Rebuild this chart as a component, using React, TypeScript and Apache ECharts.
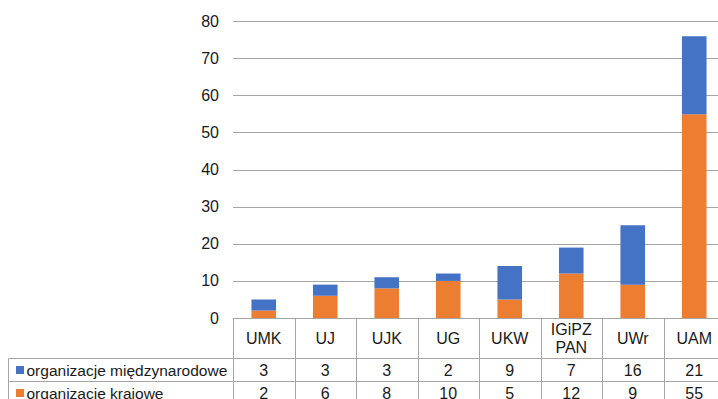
import React, { useEffect, useRef } from "react";
import * as echarts from "echarts";

const categories = ["UMK", "UJ", "UJK", "UG", "UKW", "IGiPZ\nPAN", "UWr", "UAM"];
const seriesNames = ["organizacje międzynarodowe", "organizacje krajowe"];
const international = [3, 3, 3, 2, 9, 7, 16, 21];
const domestic = [2, 6, 8, 10, 5, 12, 9, 55];
const yMin = 0;
const yMax = 80;
const yInterval = 10;

const BLUE = "#4472C4";
const ORANGE = "#ED7D31";
const GRID_GRAY = "#A6A6A6";
const TEXT = "#1a1a1a";
const FONT = "'Liberation Sans', Arial, sans-serif";

export default function App() {
  const ref = useRef<HTMLDivElement>(null);

  useEffect(() => {
    if (!ref.current) return;
    const chart = echarts.init(ref.current, null, { renderer: "svg" });

    const headerH = 40;
    const rowH = 23;
    const labelLeft = 8.5;

    const renderItem = (params: any, api: any) => {
      const idx = api.value(0);
      const pt = api.coord([idx, 0]);
      const cx = pt[0];
      const y0 = Math.round(pt[1]) + 0.5;
      const bw = api.size([1, 0])[0];
      const x0 = Math.round(cx - bw / 2) + 0.5;
      const x1 = Math.round(cx + bw / 2) + 0.5;
      const yBottom = y0 + headerH + rowH * 2;
      const line = (a: number, b: number, c: number, d: number) => ({
        type: "line",
        shape: { x1: a, y1: b, x2: c, y2: d },
        style: { stroke: GRID_GRAY, lineWidth: 1 },
      });
      const text = (t: string, x: number, y: number, align = "center", size = 16) => ({
        type: "text",
        style: {
          text: t,
          x,
          y,
          align,
          verticalAlign: "middle",
          fontSize: size,
          lineHeight: 18,
          fontFamily: FONT,
          fill: TEXT,
        },
      });
      const children: any[] = [];
      children.push(line(x1, y0, x1, yBottom));
      children.push(line(x0, y0 + headerH, x1, y0 + headerH));
      children.push(line(x0, y0 + headerH + rowH, x1, y0 + headerH + rowH));
      children.push(line(x0, yBottom, x1, yBottom));
      children.push(text(categories[idx], cx, y0 + headerH / 2));
      children.push(text(String(international[idx]), cx, y0 + headerH + rowH / 2));
      children.push(text(String(domestic[idx]), cx, y0 + headerH + rowH * 1.5));
      if (idx === 0) {
        children.push(line(x0, y0, x0, yBottom));
        children.push(line(labelLeft, y0 + headerH, labelLeft, yBottom));
        children.push(line(labelLeft, y0 + headerH, x0, y0 + headerH));
        children.push(line(labelLeft, y0 + headerH + rowH, x0, y0 + headerH + rowH));
        children.push(line(labelLeft, yBottom, x0, yBottom));
        const rowsInfo = [
          { name: seriesNames[0], color: BLUE, y: y0 + headerH + rowH / 2 },
          { name: seriesNames[1], color: ORANGE, y: y0 + headerH + rowH * 1.5 },
        ];
        rowsInfo.forEach((r) => {
          children.push({
            type: "rect",
            shape: { x: 16, y: Math.round(r.y) - 4, width: 8, height: 8 },
            style: { fill: r.color },
          });
          children.push(text(r.name, 26.5, r.y, "left", 15.5));
        });
      }
      return { type: "group", children };
    };

    chart.setOption({
      animation: false,
      grid: { left: 233, top: 21.5, width: 492, height: 296.5, containLabel: false },
      xAxis: {
        type: "category",
        data: categories,
        axisLine: { show: true, lineStyle: { color: GRID_GRAY, width: 1 } },
        axisTick: { show: false },
        axisLabel: { show: false },
      },
      yAxis: {
        type: "value",
        min: yMin,
        max: yMax,
        interval: yInterval,
        axisLine: { show: false },
        axisTick: { show: false },
        axisLabel: { fontSize: 16, fontFamily: FONT, color: TEXT, margin: 14 },
        splitLine: { lineStyle: { color: GRID_GRAY, width: 1 } },
      },
      series: [
        {
          name: seriesNames[1],
          type: "bar",
          stack: "total",
          data: domestic,
          barWidth: "40%",
          itemStyle: { color: ORANGE },
        },
        {
          name: seriesNames[0],
          type: "bar",
          stack: "total",
          data: international,
          barWidth: "40%",
          itemStyle: { color: BLUE },
        },
        {
          type: "custom",
          clip: false,
          silent: true,
          z: 10,
          encode: { x: 0, y: 1 },
          data: categories.map((_, i) => [i, 0]),
          renderItem,
        },
      ],
    });

    return () => chart.dispose();
  }, []);

  return (
    <div style={{ position: "fixed", left: 0, top: 0, width: 718, height: 399, overflow: "hidden", background: "#fff" }}>
      <div ref={ref} style={{ width: 730, height: 410 }} />
    </div>
  );
}
